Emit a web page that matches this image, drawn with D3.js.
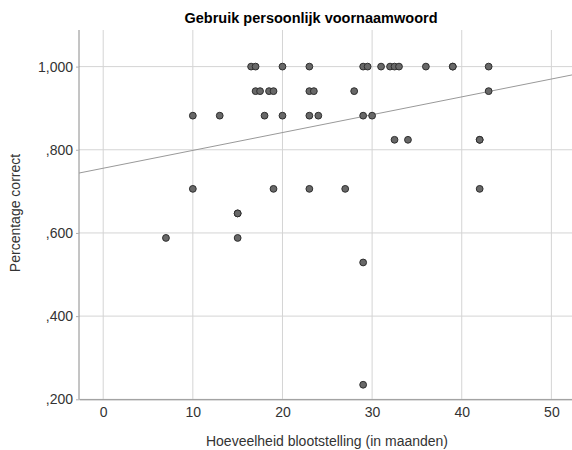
<!DOCTYPE html>
<html>
<head>
<meta charset="utf-8">
<script src="https://cdn.jsdelivr.net/npm/d3@7"></script>
<style>
  body { margin: 0; background: #fff; }
  text { font-family: "Liberation Sans", Arial, sans-serif; fill: #222; }
</style>
</head>
<body>
<script>
// months of exposure and proportion correct, one entry per child
const months = [
  16.5, 17, 20, 23, 29, 29.5, 31, 32, 32.5, 33, 36, 39, 39, 43,
  17, 17.5, 18.5, 19, 23, 23.5, 28, 43,
  10, 13, 18, 20, 23, 24, 29, 30,
  32.5, 34, 42, 42,
  10, 19, 23, 27, 42,
  15, 15,
  7, 15,
  29,
  29
]
const scores = [
  1, 1, 1, 1, 1, 1, 1, 1, 1, 1, 1, 1, 1, 1,
  0.941, 0.941, 0.941, 0.941, 0.941, 0.941, 0.941, 0.941,
  0.882, 0.882, 0.882, 0.882, 0.882, 0.882, 0.882, 0.882,
  0.824, 0.824, 0.824, 0.824,
  0.706, 0.706, 0.706, 0.706, 0.706,
  0.647, 0.647,
  0.588, 0.588,
  0.529,
  0.235
]
const xTicks = [0, 10, 20, 30, 40, 50]
const yTicks = [0.2, 0.4, 0.6, 0.8, 1.0]
// fit line
const fitIntercept = 0.7556
const fitSlope = 0.00429

const W = 572, H = 450
const svg = d3.select(document.body).append('svg')
  .attr('width', W)
  .attr('height', H)

const x = d3.scaleLinear([-2.7, 52.3], [79, 572])
const y = d3.scaleLinear([0.2, 1.088], [399.3, 30])

// gridlines
svg.append('g')
  .selectAll('line')
  .data(xTicks)
  .join('line')
  .attr('x1', d => x(d)).attr('x2', d => x(d))
  .attr('y1', y.range()[0]).attr('y2', y.range()[1])
  .attr('stroke', '#d4d4d4')
  .attr('stroke-width', 1)

svg.append('g')
  .selectAll('line')
  .data(yTicks)
  .join('line')
  .attr('x1', x.range()[0]).attr('x2', x.range()[1])
  .attr('y1', d => y(d)).attr('y2', d => y(d))
  .attr('stroke', '#d4d4d4')
  .attr('stroke-width', 1)

// axes
const xAxis = svg.append('g')
  .attr('transform', `translate(0,${y.range()[0]})`)
  .call(d3.axisBottom(x).tickValues(xTicks).tickSize(0).tickPadding(8).tickFormat(d3.format('d')))
xAxis.select('.domain').attr('stroke', '#8a8a8a')
xAxis.selectAll('text').attr('font-size', 14).style('fill', '#333')

const yAxis = svg.append('g')
  .attr('transform', `translate(${x.range()[0]},0)`)
  .call(d3.axisLeft(y).tickValues(yTicks).tickSize(3).tickPadding(3)
    .tickFormat(v => v >= 1 ? '1,000' : d3.format('.3f')(v).replace('0.', ',')))
yAxis.select('.domain').attr('stroke', '#8a8a8a').attr('d', `M0,${y.range()[1]}V${y.range()[0]}`)
yAxis.selectAll('.tick line').attr('stroke', '#b0b0b0')
yAxis.selectAll('text').attr('font-size', 14).style('fill', '#333')

// fit line
const x0 = x.domain()[0], x1 = x.domain()[1]
svg.append('line')
  .attr('x1', x(x0)).attr('y1', y(fitIntercept + fitSlope * x0))
  .attr('x2', x(x1)).attr('y2', y(fitIntercept + fitSlope * x1))
  .attr('stroke', '#999')
  .attr('stroke-width', 1)

// points
svg.append('g')
  .selectAll('circle')
  .data(months.map((m, i) => [m, scores[i]]))
  .join('circle')
  .attr('cx', d => x(d[0]))
  .attr('cy', d => y(d[1]))
  .attr('r', 3.4)
  .attr('fill', '#686868')
  .attr('stroke', '#2e2e2e')
  .attr('stroke-width', 1)

// labels
svg.append('text')
  .attr('x', 311).attr('y', 23)
  .attr('text-anchor', 'middle')
  .attr('font-size', 14.5)
  .attr('font-weight', 'bold')
  .style('fill', '#000')
  .text('Gebruik persoonlijk voornaamwoord')

svg.append('text')
  .attr('x', 327).attr('y', 446)
  .attr('text-anchor', 'middle')
  .attr('font-size', 14)
  .style('fill', '#333')
  .text('Hoeveelheid blootstelling (in maanden)')

svg.append('text')
  .attr('transform', 'translate(20,213) rotate(-90)')
  .attr('text-anchor', 'middle')
  .attr('font-size', 14)
  .style('fill', '#333')
  .text('Percentage correct')
</script>
</body>
</html>
